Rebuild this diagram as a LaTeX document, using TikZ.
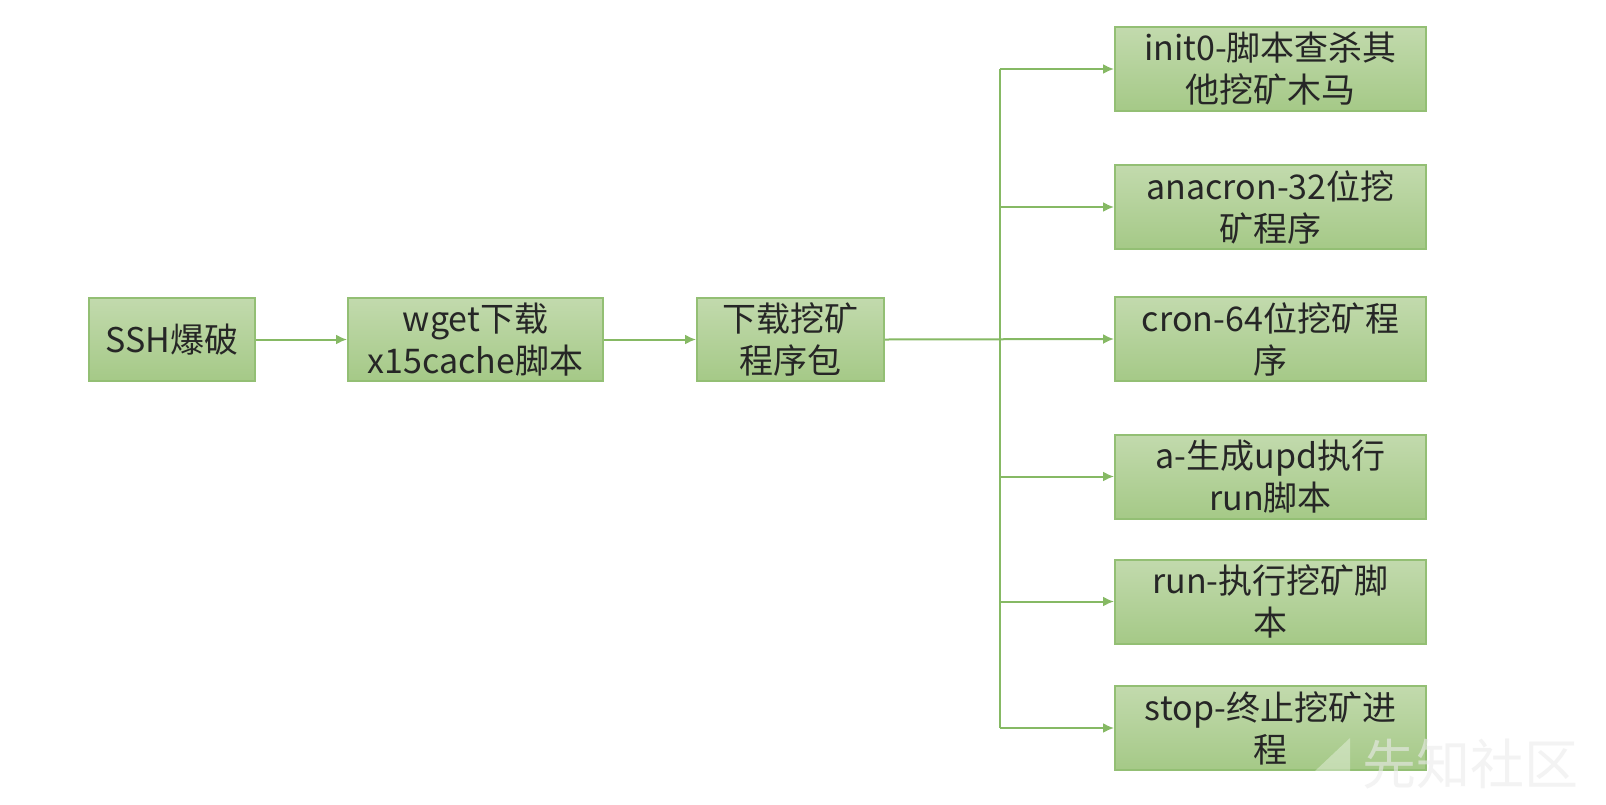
\documentclass[tikz,border=0pt]{standalone}
\usepackage{fontspec}
\setmainfont{Noto Sans CJK SC}
\newfontfamily\cjk{Noto Sans CJK SC}
\usetikzlibrary{arrows.meta,positioning}
\definecolor{boxtop}{HTML}{C2DAAD}
\definecolor{boxbot}{HTML}{A5C987}
\definecolor{boxline}{HTML}{93BF74}
\definecolor{linkc}{HTML}{86B964}
\definecolor{txt}{HTML}{262626}
\tikzset{
  greenbox/.style={draw=boxline, line width=1pt, top color=boxtop, bottom color=boxbot,
    align=center, text=txt, font=\cjk\fontsize{17}{21}\selectfont, inner sep=0pt},
  link/.style={draw=linkc, line width=1pt, -{Latex[length=5.5pt,width=5pt]}},
  trunk/.style={draw=linkc, line width=1pt},
}
\begin{document}
\begin{tikzpicture}[x=0.5pt,y=-0.5pt]
\useasboundingbox (0,0) rectangle (1606,804);
\fill[white] (0,0) rectangle (1606,804);
% left chain
\node[greenbox, minimum width=83pt, minimum height=41.5pt] (ssh) at (172,339.5) {SSH爆破};
\node[greenbox, minimum width=127.5pt, minimum height=41.5pt] (wget) at (475.5,339.5) {wget下载\\x15cache脚本};
\node[greenbox, minimum width=93.5pt, minimum height=41.5pt] (dl) at (790.5,339.5) {下载挖矿\\程序包};
% right column
\node[greenbox, minimum width=155.5pt, minimum height=42pt] (init) at (1270.5,69) {init0-脚本查杀其\\他挖矿木马};
\node[greenbox, minimum width=155.5pt, minimum height=42pt] (ana) at (1270.5,207) {anacron-32位挖\\矿程序};
\node[greenbox, minimum width=155.5pt, minimum height=42pt] (cron) at (1270.5,339) {cron-64位挖矿程\\序};
\node[greenbox, minimum width=155.5pt, minimum height=42pt] (aa) at (1270.5,476.5) {a-生成upd执行\\run脚本};
\node[greenbox, minimum width=155.5pt, minimum height=42pt] (run) at (1270.5,601.5) {run-执行挖矿脚\\本};
\node[greenbox, minimum width=155.5pt, minimum height=42pt] (stop) at (1270.5,728) {stop-终止挖矿进\\程};
% junction coordinates
\coordinate (jtop) at (1000,69);
\coordinate (jbot) at (1000,728);
% connectors
\draw[link] (ssh.east) -- (wget.west);
\draw[link] (wget.east) -- (dl.west);
\draw[link] (dl.east) -- (cron.west);
\draw[trunk] (jtop) -- (jbot);
\draw[link] (jtop) -- (init.west);
\draw[link] (1000,207) -- (ana.west);
\draw[link] (1000,476.5) -- (aa.west);
\draw[link] (1000,601.5) -- (run.west);
\draw[link] (jbot) -- (stop.west);
% watermark
\fill[white, opacity=0.35] (1297,788) -- (1350,738) -- (1350,788) -- cycle;
\node[text=white!92!black, opacity=0.6, font=\cjk\fontsize{27}{30}\selectfont, anchor=west, inner sep=0pt] (wm) at (1362,764) {先知社区};
\end{tikzpicture}
\end{document}
